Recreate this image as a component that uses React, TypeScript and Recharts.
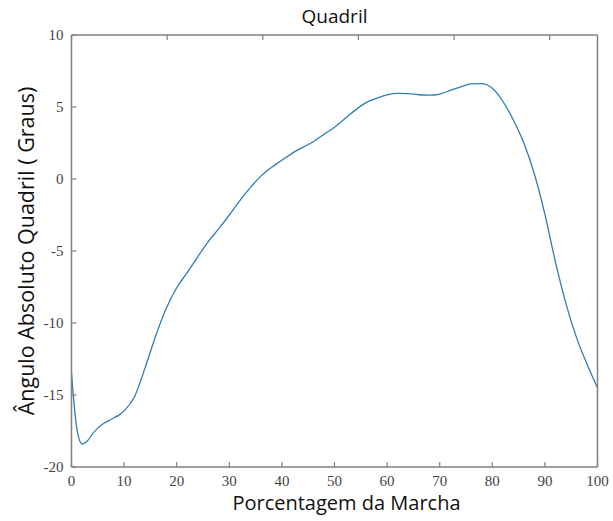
import React from 'react';
import { LineChart, Line, XAxis, YAxis, Label } from 'recharts';

// Percent of gait cycle and hip absolute angle (degrees)
const gaitPercent = [
  0, 1, 2, 3, 4, 5, 6, 7, 8, 9, 10, 12, 14, 16, 18, 20, 22, 24, 26, 28, 30,
  32, 34, 36, 38, 40, 42, 44, 46, 48, 50, 52, 54, 56, 58, 60, 62, 64, 66, 68,
  70, 72, 74, 76, 78, 80, 82, 84, 86, 88, 90, 92, 94, 96, 98, 100,
];
const hipAngle = [
  -13.5, -17.3, -18.4, -18.2, -17.7, -17.3, -17.0, -16.8, -16.6, -16.4, -16.1,
  -15.1, -13.1, -10.9, -9.0, -7.55, -6.5, -5.4, -4.35, -3.45, -2.5,
  -1.5, -0.6, 0.2, 0.8, 1.3, 1.8, 2.2, 2.6, 3.1, 3.6, 4.2, 4.8, 5.3, 5.6,
  5.85, 5.95, 5.93, 5.85, 5.82, 5.9, 6.15, 6.4, 6.6, 6.62, 6.3, 5.4, 4.1,
  2.5, 0.35, -2.45, -5.75, -8.65, -11.0, -12.85, -14.5,
];
const xTicks = [0, 10, 20, 30, 40, 50, 60, 70, 80, 90, 100];
const yTicks = [-20, -15, -10, -5, 0, 5, 10];

const data = gaitPercent.map((p, i) => ({ p, angle: hipAngle[i] }));

const TICK_LEN = 5;
const BOTTOM_GAP = 14;
const LEFT_GAP = 8;
const AXIS_GRAY = '#7f7f7f';
const LABEL_GRAY = '#444';
const SERIF = '"Liberation Serif", "DejaVu Serif", serif';
const SANS = '"Open Sans", "Noto Sans", sans-serif';

function BottomTick(props: any) {
  const { x, y, payload } = props;
  const y0 = y - BOTTOM_GAP;
  return (
    <g>
      <line x1={x} x2={x} y1={y0} y2={y0 - TICK_LEN} stroke={AXIS_GRAY} strokeWidth={1.2} />
      <text x={x} y={y} dy="0.35em" textAnchor="middle" fontFamily={SERIF} fontSize={15} fill={LABEL_GRAY}>
        {payload.value}
      </text>
    </g>
  );
}

function LeftTick(props: any) {
  const { x, y, payload } = props;
  const x0 = x + LEFT_GAP;
  return (
    <g>
      <line x1={x0} x2={x0 + TICK_LEN} y1={y} y2={y} stroke={AXIS_GRAY} strokeWidth={1.2} />
      <text x={x} y={y} dy="0.35em" textAnchor="end" fontFamily={SERIF} fontSize={15} fill={LABEL_GRAY}>
        {payload.value}
      </text>
    </g>
  );
}

function TopTick(props: any) {
  const { x, y } = props;
  return <line x1={x} x2={x} y1={y} y2={y + TICK_LEN} stroke={AXIS_GRAY} strokeWidth={1.2} />;
}

function RightTick(props: any) {
  const { x, y } = props;
  return <line x1={x} x2={x - TICK_LEN} y1={y} y2={y} stroke={AXIS_GRAY} strokeWidth={1.2} />;
}

export default function App() {
  return (
    <div style={{ position: 'absolute', left: 0, top: 0, background: '#fff' }}>
      <LineChart
        width={613}
        height={521}
        data={data}
        margin={{ top: 34, right: 14.5, bottom: 0, left: 0 }}
      >
        <XAxis
          xAxisId="bottom"
          dataKey="p"
          type="number"
          domain={[0, 100]}
          ticks={xTicks}
          interval={0}
          height={54}
          tickSize={0}
          tickMargin={BOTTOM_GAP}
          tickLine={false}
          axisLine={{ stroke: AXIS_GRAY, strokeWidth: 1.5 }}
          tick={<BottomTick />}
        >
          <Label
            content={(p: any) => {
              const vb = p.viewBox;
              return (
                <text
                  x={vb.x + vb.width / 2 + 12}
                  y={vb.y + 35}
                  textAnchor="middle"
                  dominantBaseline="central"
                  fontFamily={SANS}
                  fontSize={20}
                  fill="#111"
                >
                  Porcentagem da Marcha
                </text>
              );
            }}
          />
        </XAxis>
        <XAxis
          xAxisId="top"
          orientation="top"
          type="number"
          domain={[0, 100]}
          ticks={xTicks}
          interval={0}
          height={1}
          tickSize={0}
          tickMargin={0}
          tickLine={false}
          axisLine={{ stroke: AXIS_GRAY, strokeWidth: 1.5 }}
          tick={<TopTick />}
        >
          <Label
            content={(p: any) => {
              const vb = p.viewBox;
              return (
                <text
                  x={vb.x + vb.width / 2}
                  y={vb.y - 18}
                  textAnchor="middle"
                  dominantBaseline="central"
                  fontFamily={SANS}
                  fontSize={19}
                  fill="#111"
                >
                  Quadril
                </text>
              );
            }}
          />
        </XAxis>
        <YAxis
          yAxisId="left"
          type="number"
          domain={[-20, 10]}
          ticks={yTicks}
          interval={0}
          width={71.5}
          tickSize={0}
          tickMargin={LEFT_GAP}
          tickLine={false}
          axisLine={{ stroke: AXIS_GRAY, strokeWidth: 1.5 }}
          tick={<LeftTick />}
        >
          <Label
            content={(p: any) => {
              const vb = p.viewBox;
              const cx = vb.x + 25;
              const cy = vb.y + vb.height / 2;
              return (
                <text
                  x={cx}
                  y={cy}
                  transform={`rotate(-90, ${cx}, ${cy})`}
                  textAnchor="middle"
                  dominantBaseline="central"
                  fontFamily={SANS}
                  fontSize={21.5}
                  fill="#111"
                >
                  Ângulo Absoluto Quadril ( Graus)
                </text>
              );
            }}
          />
        </YAxis>
        <YAxis
          yAxisId="right"
          orientation="right"
          type="number"
          domain={[-20, 10]}
          ticks={yTicks}
          interval={0}
          width={1}
          tickSize={0}
          tickMargin={0}
          tickLine={false}
          axisLine={{ stroke: AXIS_GRAY, strokeWidth: 1.5 }}
          tick={<RightTick />}
        />
        <Line
          xAxisId="bottom"
          yAxisId="left"
          type="monotone"
          dataKey="angle"
          stroke="#2f7db6"
          strokeWidth={1.3}
          dot={false}
          isAnimationActive={false}
        />
      </LineChart>
    </div>
  );
}
